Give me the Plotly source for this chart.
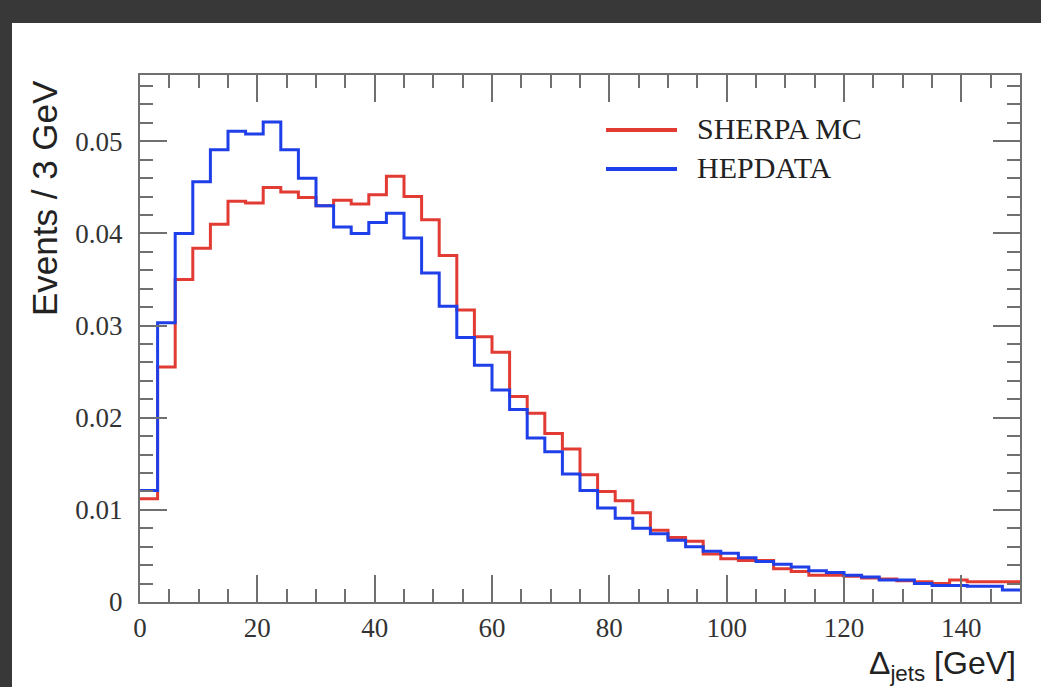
import plotly.graph_objects as go

# bin edges (3 GeV bins from 0 to 150 GeV)
bin_edges = list(range(0, 153, 3))

sherpa_mc = [0.0112, 0.0255, 0.0350, 0.0384, 0.0410, 0.0435, 0.0433, 0.0450, 0.0445, 0.0439,
             0.0430, 0.0436, 0.0432, 0.0442, 0.0462, 0.0440, 0.0415, 0.0376, 0.0317, 0.0288,
             0.0271, 0.0223, 0.0205, 0.0183, 0.0166, 0.0138, 0.0120, 0.0110, 0.0097, 0.0078,
             0.0070, 0.0066, 0.0052, 0.0047, 0.0045, 0.0045, 0.0036, 0.0033, 0.0029, 0.0029,
             0.0028, 0.0026, 0.0025, 0.0023, 0.0022, 0.0020, 0.0024, 0.0022, 0.0022, 0.0022]

hepdata = [0.0121, 0.0303, 0.0400, 0.0456, 0.0491, 0.0511, 0.0508, 0.0521, 0.0491, 0.0460,
           0.0430, 0.0407, 0.0400, 0.0412, 0.0422, 0.0395, 0.0357, 0.0321, 0.0287, 0.0257,
           0.0230, 0.0209, 0.0178, 0.0163, 0.0139, 0.0121, 0.0102, 0.0091, 0.0080, 0.0074,
           0.0067, 0.0060, 0.0055, 0.0053, 0.0048, 0.0044, 0.0041, 0.0038, 0.0034, 0.0032,
           0.0029, 0.0027, 0.0024, 0.0024, 0.0020, 0.0018, 0.0018, 0.0017, 0.0017, 0.0013]

series_names = ["SHERPA MC", "HEPDATA"]
x_tick_vals = [0, 20, 40, 60, 80, 100, 120, 140]
y_tick_vals = [0, 0.01, 0.02, 0.03, 0.04, 0.05]
y_tick_text = ["0", "0.01", "0.02", "0.03", "0.04", "0.05"]

RED = "#e23b33"
BLUE = "#1f3fe8"

fig = go.Figure()
for name, vals, col in [(series_names[0], sherpa_mc, RED), (series_names[1], hepdata, BLUE)]:
    fig.add_trace(go.Scatter(
        x=bin_edges, y=list(vals) + [vals[-1]],
        mode="lines", line=dict(color=col, width=3, shape="hv"),
        name=name, showlegend=False,
    ))

W, H = 1041, 687
ML, MR, MT, MB = 140, 21, 75, 85
PW, PH = W - ML - MR, H - MT - MB


def px_x(px):
    return (px - ML) / PW


def px_y(py):
    return (H - MB - py) / PH


axis_common = dict(
    showline=True, linecolor="#707070", linewidth=2, mirror="ticks",
    ticks="inside", ticklen=27, tickwidth=1.5, tickcolor="#707070",
    showgrid=False, zeroline=False,
    tickfont=dict(family="Liberation Serif", size=27, color="#333333"),
)

fig.update_layout(
    width=W, height=H,
    margin=dict(l=ML, r=MR, t=MT, b=MB),
    paper_bgcolor="#383838",
    plot_bgcolor="white",
    xaxis=dict(range=[0, 150], tickvals=x_tick_vals, ticklabelstandoff=1,
               minor=dict(dtick=5, ticks="inside", ticklen=13, tickwidth=1.5, tickcolor="#707070"),
               **axis_common),
    yaxis=dict(range=[0, 0.0572], tickvals=y_tick_vals, ticktext=y_tick_text, ticklabelstandoff=10,
               minor=dict(dtick=0.002, ticks="inside", ticklen=13, tickwidth=1.5, tickcolor="#707070"),
               **axis_common),
    showlegend=False,
)

# white page area inside the dark frame
fig.add_shape(type="rect", xref="paper", yref="paper", layer="below",
              x0=px_x(12), x1=px_x(W + 20), y0=px_y(H + 20), y1=px_y(23),
              fillcolor="white", line=dict(width=0))

# legend (drawn manually to match long line samples)
legend_rows = [(series_names[0], RED, 130, 128), (series_names[1], BLUE, 169, 167)]
for name, col, ly, ty in legend_rows:
    fig.add_shape(type="line", xref="paper", yref="paper",
                  x0=px_x(606), x1=px_x(677), y0=px_y(ly), y1=px_y(ly),
                  line=dict(color=col, width=4))
    fig.add_annotation(xref="paper", yref="paper", x=px_x(695), y=px_y(ty),
                       xanchor="left", yanchor="middle", text=name, showarrow=False,
                       font=dict(family="Liberation Serif", size=30, color="#222222"))

# axis titles
fig.add_annotation(xref="paper", yref="paper", x=px_x(44), y=px_y(78),
                   xanchor="center", yanchor="top", textangle=-90,
                   text="Events / 3 GeV", showarrow=False,
                   font=dict(family="Liberation Sans", size=35, color="#222222"))
fig.add_annotation(xref="paper", yref="paper", x=px_x(1018), y=px_y(688),
                   xanchor="right", yanchor="bottom",
                   text="Δ<sub>jets</sub> [GeV]", showarrow=False,
                   font=dict(family="Liberation Sans", size=32, color="#222222"))

fig.write_html(
    "out.html",
    config={"displayModeBar": False},
    post_script="document.body.style.margin='0';document.body.style.overflow='hidden';",
)
